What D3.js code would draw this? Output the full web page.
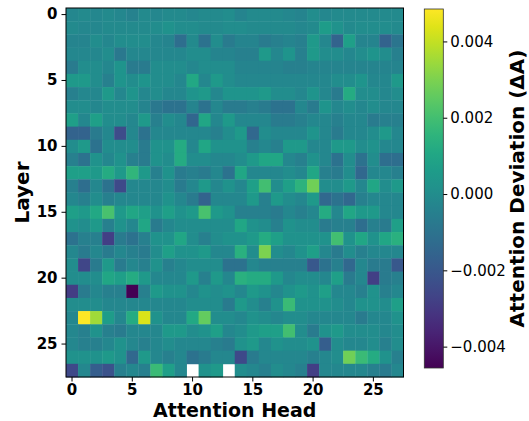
<!DOCTYPE html>
<html>
<head>
<meta charset="utf-8">
<script src="https://cdn.jsdelivr.net/npm/d3@7"></script>
<style>
body { margin: 0; background: #fff; }
svg { display: block; font-family: "DejaVu Sans", sans-serif; }
</style>
</head>
<body>
<div id="chart-area"></div>
<script>
// attention deviation per layer (rows) and head (columns), in units of 1e-4
// null = no value (drawn as blank)
var layers = d3.range(28);
var heads = d3.range(28);
var tickValues = [0, 5, 10, 15, 20, 25];
var cbarTicks = [-0.004, -0.002, 0, 0.002, 0.004];
var vmin = -0.00456, vmax = 0.00485;
var unit = 1e-4;

var deviation = [
  [-2,-1,-2,-1,-2,-4,-1,-2,-1,-1,-2,-1,-1,0, -3,-1,-1,-1,-2,-3,0,-2,-1,-1,-1,-1,-1,-1],
  [-1,-2,-2,-1,-1,-1,-1,0,2,0,0,-1,-1,0, 0,-1,-1,-1,-1,-2,-1,6,2,-1,0,0,0,-1],
  [-3,-3,0,-2,0,0,0,-2,-3,-12,-1,-10,0,-7, -3,-3,-7,-5,-3,-5,5,-2,-16,7,-3,-3,-16,-9],
  [-2,-2,-2,0,-8,-2,-2,-2,-2,-2,0,0,-3,-3, -5,-5,5,-2,3,-5,5,0,0,-2,0,3,0,-5],
  [-7,0,0,-2,3,-7,-7,0,0,0,-2,0,0,0, -3,-3,-3,-3,-5,-5,-3,-3,-3,-3,-3,-3,-3,-3],
  [5,5,0,-5,3,0,3,0,0,-2,11,-2,5,0, -2,-2,-2,-2,-2,-2,-2,-2,0,0,3,-2,-2,5],
  [-5,-2,-2,5,-2,3,-2,0,-2,-2,3,5,-2,3, 3,3,5,0,0,-2,3,-2,-7,12,0,0,-2,0],
  [0,0,-2,0,0,0,-3,-8,-10,-10,-3,-10,-2,-7, -7,-5,-7,-10,-10,-2,-7,3,-2,0,-2,0,-2,-2],
  [7,-2,7,0,0,-2,5,-5,0,-2,-15,10,-2,5, -2,-2,-2,-7,-7,-5,-2,-2,-5,-2,-2,-7,-5,-5],
  [-16,-16,-7,-2,-24,-2,-10,-2,-2,-2,-2,-2,-5,0, 5,-14,0,-2,-2,-2,3,-2,-7,-2,-2,0,5,-2],
  [0,5,-10,0,0,0,-7,2,2,12,-2,10,2,2, 2,-5,-2,-5,5,5,-2,-2,5,5,0,2,-2,-2],
  [-5,-10,2,-2,2,-5,-7,2,0,12,0,0,-2,-2, 0,5,10,10,-2,-5,2,-2,-10,0,-10,0,-12,-12],
  [7,7,5,12,5,16,5,-5,2,-7,-5,-7,-2,-10, 10,-2,-2,-2,0,-2,10,-5,-7,0,-14,-2,-2,-5],
  [-5,-12,-2,-10,-25,-2,-2,-2,0,-7,-2,5,-2,2, -2,7,20,0,7,15,28,0,0,5,-2,10,0,5],
  [-2,-5,0,-5,-2,-2,-2,-2,2,-2,-7,-16,-2,-2, -2,5,-5,5,0,-2,5,-14,-10,-14,-5,-2,-2,-2],
  [7,5,11,21,5,10,7,2,7,2,5,21,5,2, -5,-5,-5,-7,-2,-5,-2,12,-2,10,5,5,-2,-2],
  [2,0,5,-5,2,-2,10,-7,-2,0,0,0,0,0, 10,2,0,-5,2,0,0,-7,-5,-5,-12,-5,-7,7],
  [-10,-5,-5,-28,-7,-10,-5,2,2,10,0,-5,0,2, 2,5,12,7,2,2,2,2,20,2,10,2,10,14],
  [-2,-7,-2,-7,-2,-5,-7,0,7,2,2,5,-2,-2, 14,0,30,0,-2,2,7,-2,-7,0,-5,-2,-2,-2],
  [0,-26,-7,5,-7,-2,-5,2,-5,-2,0,0,0,-10, -10,-2,-5,-5,-5,-5,-20,-10,-5,-14,-2,-7,-7,-20],
  [0,0,0,10,7,12,5,-2,-2,-2,5,-5,5,-2, 14,12,12,5,-2,0,0,-2,7,-7,-2,-28,-7,-5],
  [-29,-7,-2,-5,-5,-45.6,-5,5,2,2,-2,2,0,2, -2,5,2,-2,2,5,2,7,-2,-2,-5,2,-5,-2],
  [0,0,0,-2,-2,-2,-2,-2,-2,-2,0,0,0,-7, 5,0,-5,2,18,2,2,2,0,-2,2,2,0,7],
  [-2,48.5,35,6,-2,12,43,2,-2,-2,11,26,0,0, -2,2,0,-2,0,0,-2,-2,-2,-2,-7,-2,-2,2],
  [-2,-5,2,-5,-7,-2,-2,-2,5,5,0,2,7,-2, 0,5,7,7,20,0,-7,2,5,0,0,0,-2,0],
  [-2,-5,-5,-2,2,-2,-5,-2,0,-2,-2,-2,-5,-7, 2,5,-2,2,0,0,2,-18,0,-2,-2,0,-5,0],
  [2,2,2,5,2,-14,5,-2,-5,-2,-10,-7,-2,-2, -25,-7,-2,-2,-2,-2,-5,-2,0,28,18,12,2,-5],
  [-25,-2,-18,-22,-5,-2,-5,18,7,-2,null,2,5,null, 0,-2,-5,0,-2,-5,-28,-2,-2,-2,-2,-5,-7,-2]
];

var width = 529, height = 421;
var plot = {left: 66, top: 8, right: 403.5, bottom: 377};
var cbar = {left: 424.3, right: 443.3, top: 9, bottom: 368};

var svg = d3.select("#chart-area").append("svg")
  .attr("width", width)
  .attr("height", height);

var x = d3.scaleBand().domain(heads).range([plot.left, plot.right]);
var y = d3.scaleBand().domain(layers).range([plot.top, plot.bottom]);
var color = d3.scaleSequential(d3.interpolateViridis).domain([vmin, vmax]);

var cells = [];
deviation.forEach(function(row, i) {
  row.forEach(function(v, j) {
    cells.push({layer: layers[i], head: heads[j], value: v == null ? null : v * unit});
  });
});

svg.append("g").selectAll("rect")
  .data(cells.filter(function(d) { return d.value != null; }))
  .enter().append("rect")
  .attr("x", function(d) { return x(d.head); })
  .attr("y", function(d) { return y(d.layer); })
  .attr("width", x.bandwidth() + 0.4)
  .attr("height", y.bandwidth() + 0.4)
  .attr("fill", function(d) { return color(d.value); });

// frame
svg.append("rect")
  .attr("x", plot.left).attr("y", plot.top)
  .attr("width", plot.right - plot.left).attr("height", plot.bottom - plot.top)
  .attr("fill", "none").attr("stroke", "#000").attr("stroke-width", 1);

// axes
var xAxis = d3.axisBottom(x).tickValues(tickValues).tickSizeInner(4.5).tickSizeOuter(0).tickPadding(3);
var yAxis = d3.axisLeft(y).tickValues(tickValues).tickSizeInner(4.5).tickSizeOuter(0).tickPadding(4);

var xg = svg.append("g").attr("transform", "translate(0," + plot.bottom + ")").call(xAxis);
var yg = svg.append("g").attr("transform", "translate(" + plot.left + ",0)").call(yAxis);
[xg, yg].forEach(function(g) {
  g.select(".domain").remove();
  g.selectAll("text").attr("font-family", "DejaVu Sans").attr("font-size", "15px")
    .attr("font-weight", "bold").attr("fill", "#000");
  g.selectAll("line").attr("stroke", "#000");
});

svg.append("text")
  .attr("x", (plot.left + plot.right) / 2)
  .attr("y", 416.5)
  .attr("text-anchor", "middle")
  .attr("font-size", "19px")
  .attr("font-weight", "bold")
  .text("Attention Head");

svg.append("text")
  .attr("transform", "translate(29," + (plot.top + plot.bottom) / 2 + ") rotate(-90)")
  .attr("text-anchor", "middle")
  .attr("font-size", "20px")
  .attr("font-weight", "bold")
  .text("Layer");

// colorbar
var cy = d3.scaleLinear().domain([vmin, vmax]).range([cbar.bottom, cbar.top]);
var grad = svg.append("defs").append("linearGradient")
  .attr("id", "cbar-grad").attr("x1", 0).attr("y1", 1).attr("x2", 0).attr("y2", 0);
grad.selectAll("stop")
  .data(d3.range(0, 1.0001, 0.05))
  .enter().append("stop")
  .attr("offset", function(t) { return t; })
  .attr("stop-color", function(t) { return d3.interpolateViridis(t); });

svg.append("rect")
  .attr("x", cbar.left).attr("y", cbar.top)
  .attr("width", cbar.right - cbar.left).attr("height", cbar.bottom - cbar.top)
  .attr("fill", "url(#cbar-grad)")
  .attr("stroke", "#333").attr("stroke-width", 0.8);

var cAxis = d3.axisRight(cy).tickValues(cbarTicks).tickFormat(d3.format(".3f"))
  .tickSizeInner(4).tickSizeOuter(0).tickPadding(3);
var cg = svg.append("g").attr("transform", "translate(" + cbar.right + ",0)").call(cAxis);
cg.select(".domain").remove();
cg.selectAll("text").attr("font-family", "DejaVu Sans").attr("font-size", "15px").attr("fill", "#000");
cg.selectAll("line").attr("stroke", "#000");

svg.append("text")
  .attr("transform", "translate(524," + (cbar.top + cbar.bottom) / 2 + ") rotate(-90)")
  .attr("text-anchor", "middle")
  .attr("font-size", "20px")
  .attr("font-weight", "bold")
  .text("Attention Deviation (ΔA)");
</script>
</body>
</html>
